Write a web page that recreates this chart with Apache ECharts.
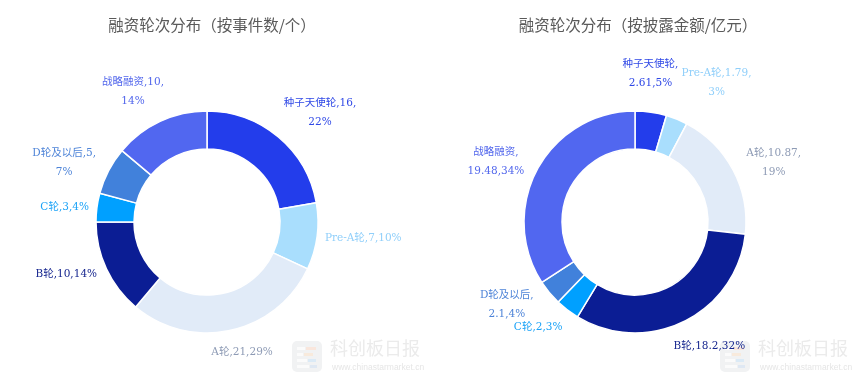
<!DOCTYPE html>
<html>
<head>
<meta charset="utf-8">
<script src="https://cdn.jsdelivr.net/npm/echarts@6/dist/echarts.min.js"></script>
<style>
  html, body { margin: 0; padding: 0; background: #fff; }
  #chart { width: 856px; height: 381px; }
</style>
</head>
<body>
<div id="chart"></div>
<script>
// ---- data ----
const categories = ['种子天使轮', 'Pre-A轮', 'A轮', 'B轮', 'C轮', 'D轮及以后', '战略融资'];
const eventCounts = [16, 7, 21, 10, 3, 5, 10];
const amounts = [2.61, 1.79, 10.87, 18.2, 2, 2.1, 19.48];
const titles = ['融资轮次分布（按事件数/个）', '融资轮次分布（按披露金额/亿元）'];

// ---- styling / formatting ----
const sliceColors = ['#233DEB', '#A9DEFD', '#E1EBF8', '#0B1D94', '#00A0FF', '#4181DB', '#5167F0'];
const labelColors = ['#2F48E6', '#90CFFA', '#8E9BB5', '#16268F', '#1CA3F7', '#4E84D8', '#5166EC'];
// where each label wraps: 'value' = after value, 'name' = after name, 'none' = single line
const wrapLeft = ['value', 'none', 'none', 'none', 'none', 'value', 'value'];
const wrapRight = ['name', 'value', 'value', 'none', 'none', 'name', 'name'];

const CENTERS = [[207, 222], [635, 222]];
const TITLE_X = [212, 638];
const R_IN = 73, R_OUT = 111, GAP = 7;
const LEAN = 6 * Math.PI / 180;   // labels lean slightly toward the horizontal
const LABEL_SIZE = 10.5, LABEL_LH = 19;
const FONT_LABEL = '"DejaVu Serif", "Noto Sans CJK SC", serif';
const FONT_CJK = '"Noto Sans CJK SC", sans-serif';

const seriesValues = [eventCounts, amounts];
const wraps = [wrapLeft, wrapRight];

// percent with largest remainder (same as ECharts percentPrecision 0)
function percents(values) {
  const total = values.reduce((a, b) => a + b, 0);
  const raw = values.map(v => v / total * 100);
  const fl = raw.map(Math.floor);
  const left = 100 - fl.reduce((a, b) => a + b, 0);
  const order = raw.map((r, i) => [r - fl[i], i]).sort((a, b) => b[0] - a[0]);
  for (let k = 0; k < left; k++) fl[order[k][1]]++;
  return fl;
}

function labelLines(s, i, name, value, pct) {
  const mode = wraps[s][i];
  const v = String(value), p = pct + '%';
  if (mode === 'value') return [name + ',' + v + ',', p];
  if (mode === 'name') return [name + ',', v + ',' + p];
  return [name + ',' + v + ',' + p];
}

function rich() {
  const r = {};
  labelColors.forEach((c, i) => {
    r['c' + i] = { color: c, fontSize: LABEL_SIZE, lineHeight: LABEL_LH, align: 'center', fontFamily: FONT_LABEL };
  });
  return r;
}

function makeFormatter(s) {
  return function (p) {
    return labelLines(s, p.dataIndex, p.name, p.value, p.percent)
      .map(l => '{c' + p.dataIndex + '|' + l + '}').join('\n');
  };
}

// ---- label placement (outside end, derived from slice mid-angles) ----
const ctx = document.createElement('canvas').getContext('2d');
ctx.font = LABEL_SIZE + 'px ' + FONT_LABEL;

function computeLabelPositions(s) {
  const values = seriesValues[s];
  const total = values.reduce((a, b) => a + b, 0);
  const pcts = percents(values);
  const n = values.length;
  const ang = [], w = [], h = [], extra = [];
  let cum = 0;
  for (let i = 0; i < n; i++) {
    const mid = (cum + values[i] / 2) / total * Math.PI * 2;
    ang.push(mid + LEAN * Math.sin(2 * mid));
    extra.push(0);
    cum += values[i];
    const lines = labelLines(s, i, categories[i], values[i], pcts[i]);
    w.push(Math.max(...lines.map(l => ctx.measureText(l).width)));
    h.push(lines.length * LABEL_LH);
  }
  function rectOf(i) {
    const ux = Math.sin(ang[i]), uy = -Math.cos(ang[i]);
    const ext = Math.abs(ux) * w[i] / 2 + Math.abs(uy) * h[i] / 2;
    const d = R_OUT + GAP + ext + extra[i];
    const x = CENTERS[s][0] + ux * d, y = CENTERS[s][1] + uy * d;
    return { x, y, l: x - w[i] / 2, r: x + w[i] / 2, t: y - h[i] / 2 + 3, b: y + h[i] / 2 - 3 };
  }
  const step = 0.25 * Math.PI / 180;
  for (let it = 0; it < 400; it++) {
    let moved = false;
    for (let i = 0; i < n; i++) {
      const j = (i + 1) % n;
      const A = rectOf(i), B = rectOf(j);
      const pad = 3;
      if (A.l < B.r + pad && B.l < A.r + pad && A.t < B.b && B.t < A.b) {
        ang[i] -= step; ang[j] += step;
        extra[i] += 0.6; extra[j] += 0.6;
        moved = true;
      }
    }
    if (!moved) break;
  }
  return values.map((_, i) => rectOf(i));
}

const labelPos = [computeLabelPositions(0), computeLabelPositions(1)];

function makeSeries(s) {
  return {
    type: 'pie',
    center: CENTERS[s],
    radius: [R_IN, R_OUT],
    startAngle: 90,
    clockwise: true,
    percentPrecision: 0,
    avoidLabelOverlap: false,
    animation: false,
    itemStyle: { borderColor: '#ffffff', borderWidth: 1.5 },
    label: {
      show: true,
      position: 'outside',
      overflow: 'none',
      formatter: makeFormatter(s),
      rich: rich()
    },
    labelLine: { show: false },
    labelLayout: function (params) {
      const p = labelPos[s][params.dataIndex];
      return { x: p.x, y: p.y, align: 'center', verticalAlign: 'middle' };
    },
    emphasis: { disabled: true },
    data: categories.map((name, i) => ({
      name: name,
      value: seriesValues[s][i],
      itemStyle: { color: sliceColors[i] }
    }))
  };
}

// ---- watermark decoration ----
const graphics = [];
[292, 720].forEach(x0 => {
  graphics.push({ type: 'rect', shape: { x: x0, y: 341, width: 30, height: 31, r: 5 }, style: { fill: '#f1f2f3' }, z: 0 });
  const bars = [
    [5, 6, 8, '#fbfbfb'], [14, 6, 10, '#f9e6dc'],
    [5, 12, 6, '#fbfbfb'], [12, 12, 9, '#f8eadc'],
    [5, 18, 10, '#fbfbfb'], [16, 18, 8, '#dbeaf6'],
    [5, 24, 12, '#fbfbfb'], [18, 24, 7, '#dfe8f3']
  ];
  bars.forEach(b => graphics.push({ type: 'rect', shape: { x: x0 + b[0], y: 341 + b[1], width: b[2], height: 3 }, style: { fill: b[3] }, z: 0 }));
  graphics.push({ type: 'text', x: x0 + 38, y: 348, style: { text: '科创板日报', fontSize: 18, fontFamily: FONT_CJK, fill: '#ebebeb', verticalAlign: 'middle' }, z: 0 });
  graphics.push({ type: 'text', x: x0 + 40, y: 368, style: { text: 'www.chinastarmarket.cn', fontSize: 8.5, fontFamily: '"Liberation Sans", Arial, sans-serif', fill: '#e6e6e6', verticalAlign: 'middle' }, z: 0 });
});

const chart = echarts.init(document.getElementById('chart'), null, { renderer: 'canvas' });
chart.setOption({
  backgroundColor: '#ffffff',
  animation: false,
  title: titles.map((t, s) => ({
    text: t,
    left: TITLE_X[s],
    top: 17,
    padding: 0,
    textAlign: 'center',
    textStyle: { fontSize: 15.5, fontWeight: 'normal', color: '#5a5a5a', fontFamily: FONT_CJK }
  })),
  graphic: graphics,
  series: [makeSeries(0), makeSeries(1)]
});
</script>
</body>
</html>
